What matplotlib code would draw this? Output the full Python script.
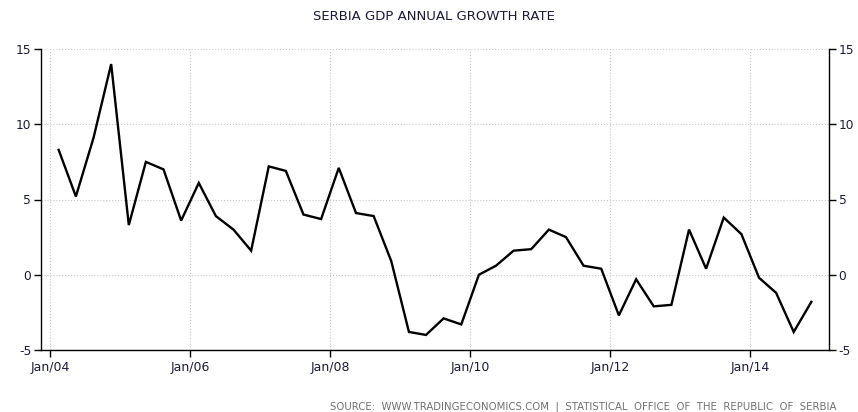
import datetime as dt
import matplotlib
matplotlib.use('Agg')
import matplotlib.pyplot as plt
import matplotlib.dates as mdates

# --- Data: Serbia GDP annual growth rate, quarterly 2004Q1 - 2014Q4 ---
start_year = 2004
growth = [8.3, 5.2, 9.1, 14.0,
          3.3, 7.5, 7.0, 3.6,
          6.1, 3.9, 3.0, 1.6,
          7.2, 6.9, 4.0, 3.7,
          7.1, 4.1, 3.9, 0.9,
          -3.8, -4.0, -2.9, -3.3,
          0.0, 0.6, 1.6, 1.7,
          3.0, 2.5, 0.6, 0.4,
          -2.7, -0.3, -2.1, -2.0,
          3.0, 0.4, 3.8, 2.7,
          -0.2, -1.2, -3.8, -1.8]
dates = [dt.date(start_year + i // 4, 2 + 3 * (i % 4), 15) for i in range(len(growth))]

TITLE = 'SERBIA GDP ANNUAL GROWTH RATE'
SOURCE = 'SOURCE:  WWW.TRADINGECONOMICS.COM  |  STATISTICAL  OFFICE  OF  THE  REPUBLIC  OF  SERBIA'
TEXT_COLOR = '#1c1c3a'

plt.rcParams['font.family'] = 'DejaVu Sans'
plt.rcParams['axes.unicode_minus'] = False

fig = plt.figure(figsize=(8.58, 4.12), dpi=100)
ax = fig.add_axes([41 / 858, 62 / 412, (829 - 41) / 858, (350 - 49) / 412])

ax.plot(dates, growth, color='black', linewidth=1.7, solid_joinstyle='miter')

ax.set_xlim(dt.date(2003, 11, 15), dt.date(2015, 2, 15))
ax.set_ylim(-5, 15)
ax.set_yticks([-5, 0, 5, 10, 15])

ax.xaxis.set_major_locator(mdates.YearLocator(2))
ax.xaxis.set_major_formatter(mdates.DateFormatter('%b/%y'))

ax.grid(True, color='#c8c8c8', linestyle=':', linewidth=0.8)
ax.set_axisbelow(True)

for side in ['left', 'bottom', 'right']:
    ax.spines[side].set_color('black')
    ax.spines[side].set_linewidth(1.0)
ax.spines['top'].set_visible(False)

ax.tick_params(axis='y', which='both', left=True, right=True,
               labelleft=True, labelright=True, direction='out',
               length=5, width=1, labelsize=8.8, labelcolor=TEXT_COLOR, pad=2)
ax.tick_params(axis='x', direction='out', length=5, width=1,
               labelsize=9, labelcolor=TEXT_COLOR, pad=3)

fig.text(434 / 858, 1 - 17 / 412, TITLE, ha='center', va='center',
         fontsize=9.5, color=TEXT_COLOR)
fig.text(836 / 858, 1 - 407 / 412, SOURCE, ha='right', va='center',
         fontsize=7.3, color='#707070')

fig.savefig('out.png', dpi=100)
plt.close(fig)
